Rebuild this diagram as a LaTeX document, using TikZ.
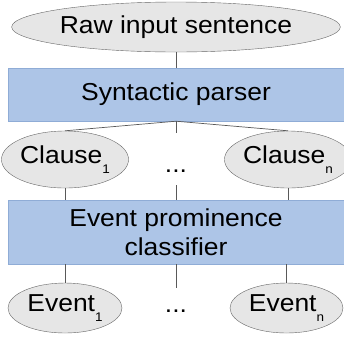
\documentclass[tikz,border=0pt]{standalone}
\usepackage{fontspec}
\setmainfont[FakeStretch=1.08]{Liberation Sans}
\usetikzlibrary{shapes.geometric}
\definecolor{stageblue}{HTML}{ADC5E7}
\definecolor{stageline}{HTML}{8FACD6}
\definecolor{ovalgray}{HTML}{E6E6E6}
\newcommand{\idx}[1]{\raisebox{-10pt}{\fontsize{12.5}{12.5}\selectfont #1}}
\begin{document}
\begin{tikzpicture}[x=1pt, y=-1pt, font=\fontsize{24.5}{29}\selectfont,
    oval/.style={ellipse, draw=black!60, fill=ovalgray, inner sep=0pt},
    stage/.style={rectangle, draw=stageline, fill=stageblue, minimum width=336pt, align=center},
    link/.style={draw=black!65, line width=0.7pt}]
            \useasboundingbox (0,0) rectangle (344,338);
            \node[oval, minimum width=285pt, minimum height=50pt] (raw) at (176, 27) {Raw input sentence};
            \node[stage, minimum height=53pt] (parser) at (176, 94.5) {Syntactic parser};
            \node[oval, minimum width=114pt, minimum height=57pt] (clause1) at (65, 159.5) {Clause\idx{1}};
            \node[oval, minimum width=112pt, minimum height=57pt] (clausen) at (288, 159.5) {Clause\idx{n}};
            \node[anchor=base] (dots1) at (176, 172) {...};
            \node[stage, minimum height=64pt] (classifier) at (176, 232) {Event prominence\\classifier};
            \node[oval, minimum width=114pt, minimum height=50pt] (event1) at (65, 308) {Event\idx{1}};
            \node[oval, minimum width=113pt, minimum height=50pt] (eventn) at (286.5, 308) {Event\idx{n}};
            \node[anchor=base] (dots2) at (176, 312) {...};
            \coordinate (up1) at (176, 133);
            \coordinate (up2) at (176, 185);
            \coordinate (down1) at (176, 288);
            \draw[link] (raw) -- (parser);
            \draw[link] (parser.south) -- (clause1.north);
            \draw[link] (parser.south) -- (clausen.north);
            \draw[link] (parser.south) -- (up1);
            \draw[link] (clause1) -- (clause1 |- classifier.north);
            \draw[link] (clausen) -- (clausen |- classifier.north);
            \draw[link] (classifier.north) -- (up2);
            \draw[link] (classifier.south -| event1) -- (event1);
            \draw[link] (classifier.south -| eventn) -- (eventn);
            \draw[link] (classifier.south) -- (down1);
        \end{tikzpicture}
\end{document}
